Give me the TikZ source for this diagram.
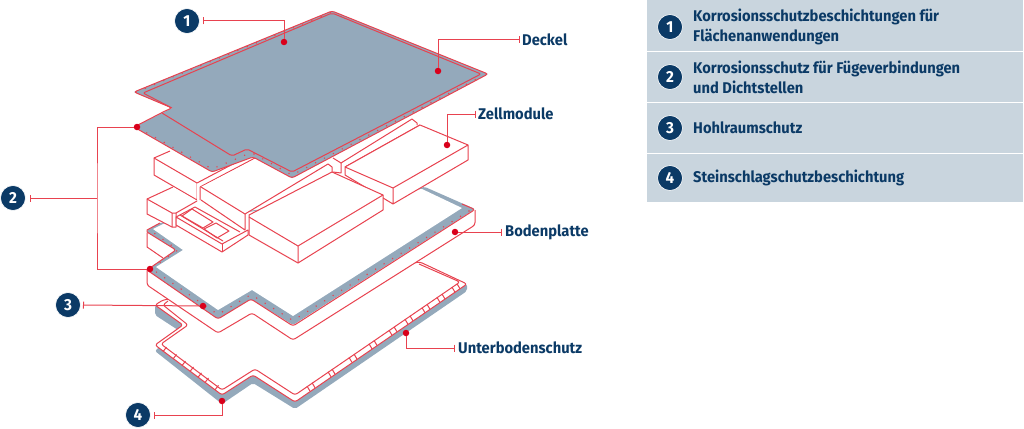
\documentclass[tikz,border=0pt]{standalone}
\usepackage{fontspec}
\setmainfont{Fira Sans}[FakeStretch=0.95]
\usetikzlibrary{arrows.meta}
\definecolor{rd}{HTML}{E8424F}
\definecolor{dotrd}{HTML}{D9001B}
\definecolor{gy}{HTML}{94A9BB}
\definecolor{pan}{HTML}{C9D5DE}
\definecolor{nv}{HTML}{0B3A66}
\tikzset{
 ln/.style={draw=rd,line width=1pt,line join=round},
 wh/.style={ln,fill=white},
 pts/.style={draw=rd,line width=1.6pt,line cap=round,dash pattern=on 0pt off 10pt},
 leader/.style={draw=rd,line width=1pt,{Bar[width=7pt,line width=1pt]}-},
 leaderp/.style={draw=rd,line width=1pt},
 rdot/.style={circle,fill=dotrd,inner sep=0pt,minimum size=6.5pt},
 badge/.style={circle,fill=nv,draw=white,line width=0.6pt,text=white,inner sep=0pt,minimum size=25pt,font=\bfseries\fontsize{16}{16}\selectfont},
 lbl/.style={anchor=west,text=nv,inner sep=0pt,font=\bfseries\fontsize{15.5}{15.5}\selectfont},
 leg/.style={anchor=west,text=nv,inner sep=0pt,align=left,font=\bfseries\fontsize{15.5}{20}\selectfont},
 panel/.style={fill=pan,draw=none}
}
\begin{document}
\begin{tikzpicture}[x=1pt,y=-1pt]
\useasboundingbox (0,0) rectangle (1024,428);
% ---------- Unterbodenschutz
\fill[gy,rounded corners=2pt] (155,305)--(155,315)--(178,330)--(155,351)--(222,404)--(253,383)--(295,409)--(467,291)--(467,284)--(420,262)--cycle;
\draw[wh,rounded corners=2.5pt] (420,262)--(467,284)--(295,402)--(253,375)--(222,395)--(155,345)--(183,325)--(155,305)--(163,300)--cycle;
\draw[ln,rounded corners=2.5pt] (419,264)--(460,282)--(295,395)--(255,369)--(222,390)--(161,344)--(188,325)--(163,305)--(168,301);
\foreach \xa in {310,315,331,335,352,357,372,377,392,397,408,413,425,430,440,445,455,460}{
  \pgfmathsetmacro\ya{402-(\xa-294)*0.682}
  \draw[ln] (\xa,\ya)--(\xa-3,\ya-5);}
\foreach \xa in {163,173,182,190,198,205,215}{
  \pgfmathsetmacro\ya{345+(\xa-154)*0.735}
  \draw[ln] (\xa,\ya)--(\xa+3.5,\ya-4.5);}
% ---------- Bodenplatte
\fill[white] (147,231)--(147,247)--(163,258)--(147,270)--(147,285)--(218,333)--(252,313)--(293,340)--(475,225)--(475,210)--(425,187)--cycle;
\draw[ln] (147,233)--(147,247)--(163,258);
\draw[ln,rounded corners=2.5pt] (147,270)--(147,285)--(218,333)--(252,313)--(293,340)--(475,225)--(475,210);
\fill[gy,rounded corners=1.5pt] (425,187)--(475,209)--(293,325)--(251,299)--(218,319)--(147,270)--(176,250)--(147,232)--(147,230)--(160,223)--cycle;
\fill[white] (422,189)--(462,208)--(293,316)--(252,290)--(218,310)--(156,267)--(183,250)--(153,229)--(165,223)--cycle;
\draw[ln,rounded corners=2.5pt] (462,204)--(475,209.5)--(293,326)--(251,299)--(218,319)--(147,270)--(176,250)--(147,232);
\draw[ln] (147,232)--(147,230)--(160,223);
\draw[pts] (469,211)--(293,320.5)--(251,294.5)--(218,314.5)--(152,269);
\draw[pts] (152,268)--(178,250)--(154,233);
% ---------- Zellmodule
% block D
\fill[white] (170,151)--(154,158)--(154,175)--(197,200)--(197,183)--(250,155)--cycle;
\draw[ln] (170,151)--(154,158)--(154,175)--(197,200)--(197,183);
\draw[ln] (154,158)--(197,183);
% block E
\fill[white] (173,187)--(147,199)--(147,214)--(172,227)--(176,227)--(176,213)--(197,201)--cycle;
\draw[ln] (173,187)--(147,199)--(147,214)--(172,227)--(176,227)--(176,213)--(197,201);
\draw[ln] (147,199)--(172,213)--(176,213) (172,213)--(172,227);
% tray F
\fill[white] (201,204)--(176,217)--(176,225)--(222,252)--(248,235)--(248,228)--cycle;
\draw[ln] (176,217)--(222,244)--(248,230)--(248,235)--(222,252)--(176,225)--cycle;
\draw[ln] (222,244)--(222,252);
\draw[ln] (176,217)--(195,207)--(240,232);
\draw[ln] (180,215)--(223,241);
\draw[ln] (182,216)--(192,209)--(213,222)--(203,228)--cycle;
\draw[ln] (204,229)--(216,223)--(229,231)--(217,238)--cycle;
% strip D/B
\fill[white] (197,183)--(240,160)--(255,158)--(200,187)--(200,200)--(197,200)--cycle;
\draw[ln] (197,183)--(250,155) (200,187)--(255,158) (200,187)--(200,200);
% block B
\fill[white] (201,187)--(255,159)--(328,164)--(245,214)--(245,230)--(201,200)--cycle;
\draw[ln] (201,187)--(245,214)--(245,230)--(201,200);
\draw[ln] (245,214)--(328,164)--(332,167)--(332,172);
% strip A/B
\fill[white] (333,158)--(341,163)--(341,173)--(333,172)--cycle;
\draw[ln] (333,158)--(341,163)--(341,173)--(333,172);
\draw[ln] (341,163)--(412,119)--(417,123)--(417,125);
\draw[ln] (345,167)--(420,125);
% block A
\fill[white] (420,125)--(468,145)--(468,160)--(393,204)--(345,175)--(345,167)--cycle;
\draw[ln] (420,125)--(468,145)--(468,160)--(393,204)--(345,175)--(345,167)--(393,188)--(468,145) (393,188)--(393,204) (345,167)--(420,125);
% block C
\fill[white] (332,172)--(383,195)--(383,210)--(298,263)--(249,235)--(249,215)--cycle;
\draw[ln] (332,172)--(383,195)--(383,210)--(298,263)--(249,235)--(249,215)--cycle;
\draw[ln] (249,217)--(298,246)--(383,195) (298,246)--(298,263);
% ---------- Deckel
\fill[gy] (332,11)--(488,74)--(292,178)--(253,157)--(212,172)--(134,127)--(162,113)--(172,108)--(134,92)--cycle;
\draw[ln,rounded corners=2.5pt] (332,11)--(488,74)--(292,178)--(253,157)--(212,172)--(134,127)--(165,111)--(172,108)--(134,92)--cycle;
\draw[ln,rounded corners=2pt] (162,113)--(232,156)--(247,149)--(292,172)--(481,74)--(332,13)--(143,93)--(172,108);
\draw[pts] (138,128)--(212,169)--(250,153);
\draw[pts] (254,154)--(292,175)--(484,75);
\draw[pts] (136,92)--(332,12);
% ---------- Legend
\fill[panel] (647,0) rectangle (1023,51);
\fill[panel] (647,52) rectangle (1023,102);
\fill[panel] (647,103) rectangle (1023,153);
\fill[panel] (647,154) rectangle (1023,202);
\node[badge] (l1) at (670,27) {1};
\node[badge] (l2) at (670,77) {2};
\node[badge] (l3) at (670,128) {3};
\node[badge] (l4) at (670,178) {4};
\node[leg] (t1) at (693,27) {Korrosionsschutzbeschichtungen für\\Flächenanwendungen};
\node[leg] (t2) at (693,77) {Korrosionsschutz für Fügeverbindungen\\und Dichtstellen};
\node[leg] (t3) at (693,128) {Hohlraumschutz};
\node[leg] (t4) at (693,178) {Steinschlagschutzbeschichtung};
% ---------- Callouts
\node[badge] (b1) at (187,21) {1};
\node[badge] (b2) at (13,198) {2};
\node[badge] (b3) at (68,305) {3};
\node[badge] (b4) at (138,415) {4};
\coordinate (c1) at (203,21);
\coordinate (c2) at (30,198);
\coordinate (c2m) at (97,198);
\coordinate (c3) at (83,305);
\coordinate (c4) at (154,415);
\coordinate (cd) at (520,40);
\coordinate (cz) at (476,114);
\coordinate (cb) at (502,232);
\coordinate (cu) at (455,348);
\node[rdot] (d1a) at (284,42) {};
\node[rdot] (d1b) at (438,71) {};
\node[rdot] (d2a) at (137,127) {};
\node[rdot] (d2b) at (150,269) {};
\node[rdot] (d3) at (203,306) {};
\node[rdot] (d4) at (222,401) {};
\node[rdot] (dz) at (447,145) {};
\node[rdot] (db) at (455,232) {};
\node[rdot] (du) at (406,333) {};
\node[lbl] (ld) at (522,40) {Deckel};
\node[lbl] (lz) at (478,114) {Zellmodule};
\node[lbl] (lb) at (505,232) {Bodenplatte};
\node[lbl] (lu) at (458,348) {Unterbodenschutz};
\draw[leader] (c1) -| (d1a);
\draw[leader] (cd) -| (d1b);
\draw[leader] (cz) -| (dz);
\draw[leader] (cb) -- (db);
\draw[leader] (cu) -| (du);
\draw[leader] (c2) -- (c2m);
\draw[leaderp] (d2a) -| (c2m) |- (d2b);
\draw[leader] (c3) -- (d3);
\draw[leader] (c4) -| (d4);
\end{tikzpicture}
\end{document}
